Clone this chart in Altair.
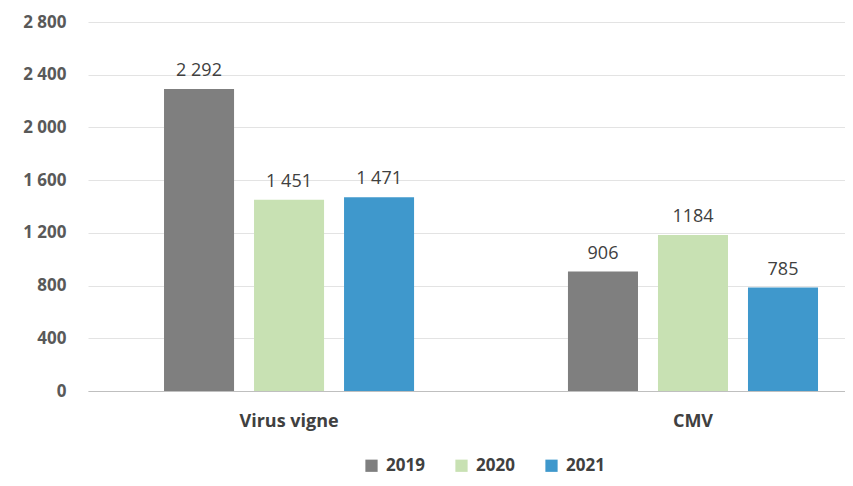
import altair as alt
import pandas as pd

categories = ["Virus vigne", "Virus vigne", "Virus vigne", "CMV", "CMV", "CMV"]
years = ["2019", "2020", "2021", "2019", "2020", "2021"]
values = [2292, 1451, 1471, 906, 1184, 785]
value_labels = ["2 292", "1 451", "1 471", "906", "1184", "785"]

year_domain = ["2019", "2020", "2021"]
year_colors = ["#7f7f7f", "#c8e1b3", "#3f98cc"]
cat_domain = ["Virus vigne", "CMV"]

df = pd.DataFrame({"cat": categories, "year": years, "value": values, "label": value_labels})

FONT = "Open Sans"

x = alt.X("cat:N", sort=cat_domain, title=None,
          scale=alt.Scale(domain=cat_domain, paddingInner=0.381, paddingOuter=0.1275, align=0.738),
          axis=alt.Axis(labelAngle=0, labelFont=FONT, labelFontSize=18, labelFontWeight="bold",
                        labelColor="#404040", labelPadding=21, ticks=False,
                        domainColor="#bfbfbf", domainWidth=1))
xoff = alt.XOffset("year:N", sort=year_domain,
                   scale=alt.Scale(domain=year_domain, paddingInner=0.222, paddingOuter=0))

base = alt.Chart(df)

bars = base.mark_bar().encode(
    x=x,
    xOffset=xoff,
    y=alt.Y("value:Q", title=None,
            scale=alt.Scale(domain=[0, 2800], nice=False),
            axis=alt.Axis(values=[0, 400, 800, 1200, 1600, 2000, 2400, 2800],
                          labelExpr="replace(format(datum.value, ','), ',', ' ')",
                          labelFont=FONT, labelFontSize=17, labelFontWeight="bold",
                          labelColor="#595959", labelPadding=22, ticks=False, domain=False,
                          gridColor="#e3e3e3", gridWidth=1)),
    color=alt.Color("year:N", sort=year_domain,
                    scale=alt.Scale(domain=year_domain, range=year_colors),
                    legend=alt.Legend(title=None, orient="none", direction="horizontal",
                                      legendX=275, legendY=435,
                                      symbolType="square", symbolSize=150, symbolStrokeWidth=0,
                                      symbolOpacity=1,
                                      labelFont=FONT, labelFontSize=17, labelFontWeight="bold",
                                      labelColor="#404040", columnPadding=28, symbolOffset=0,
                                      labelOffset=6)),
)

labels = base.mark_text(baseline="bottom", dy=-9, font=FONT, fontSize=18, color="#404040").encode(
    x=x,
    xOffset=xoff,
    y=alt.Y("value:Q"),
    text="label:N",
)

chart = alt.layer(bars, labels).properties(
    width=757, height=369,
    autosize=alt.AutoSizeParams(type="none"),
    padding={"left": 80, "top": 14, "right": 0, "bottom": 86},
).configure_view(stroke=None)

chart.save("out.html", embed_options={"renderer": "svg", "actions": False})
